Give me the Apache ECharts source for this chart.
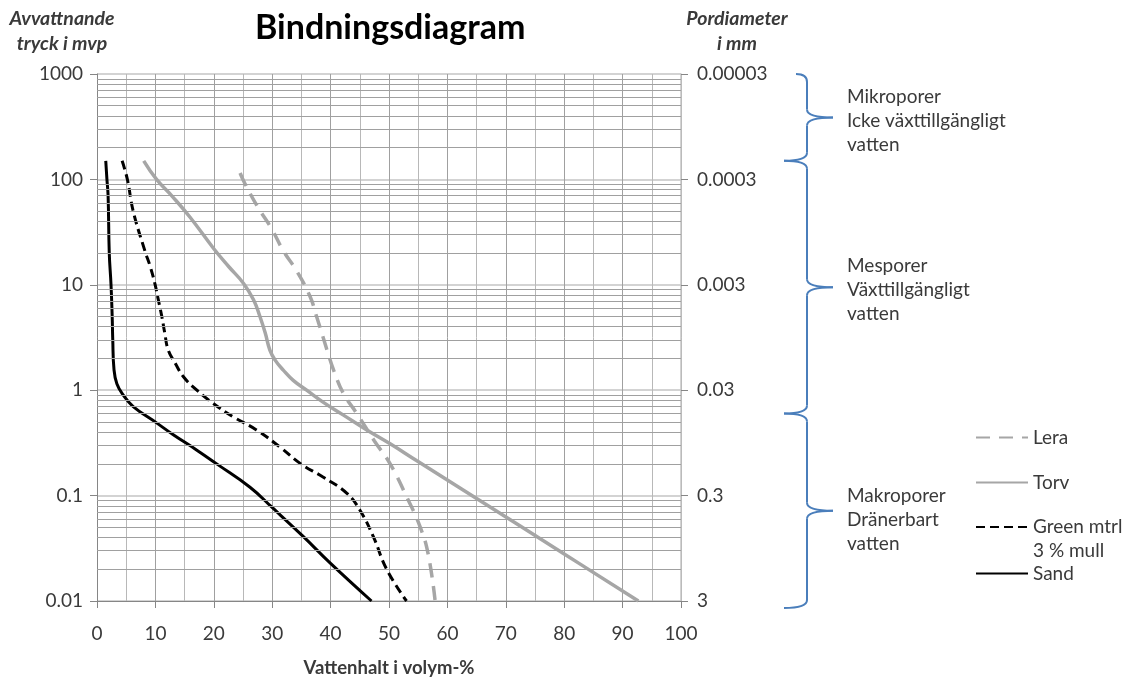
<!DOCTYPE html>
<html>
<head>
<meta charset="utf-8">
<title>Bindningsdiagram</title>
<style>
  html, body { margin: 0; padding: 0; background: #ffffff; }
  #chart { width: 1126px; height: 682px; }
</style>
<script src="https://cdn.jsdelivr.net/npm/echarts@6/dist/echarts.min.js"></script>
</head>
<body>
<div id="chart"></div>
<script>
// Water retention curves: water content (volume-%) against suction (m water column)
const seriesNames = ['Lera', 'Torv', 'Green mtrl', 'Sand'];

const leraX = [24.5, 25.3, 27.5, 29.9, 31.9, 34.2, 36.5, 37.6, 38.7, 39.6, 40.5, 42.2, 44.5, 47.5, 50.2, 53.0, 55.3, 56.7, 57.9];
const leraY = [115, 92, 55, 34, 21, 13.5, 7.7, 5.0, 3.2, 2.2, 1.56, 0.93, 0.6, 0.33, 0.2, 0.098, 0.051, 0.028, 0.01];

const torvX = [8.0, 10.2, 13.0, 15.9, 20.0, 22.5, 25.1, 26.8, 27.9, 28.8, 29.6, 30.5, 31.9, 33.6, 35.9, 38.7, 42.2, 46.2, 50.2, 54.7, 65.0, 79.8, 92.7];
const torvY = [150, 100, 68, 44, 22, 15, 10.3, 7.2, 5.0, 3.5, 2.4, 1.93, 1.55, 1.24, 1.0, 0.77, 0.58, 0.42, 0.31, 0.215, 0.094, 0.0284, 0.01];

const greenX = [4.3, 5.2, 6.2, 8.2, 9.1, 9.9, 10.5, 11.1, 11.6, 12.2, 13.4, 14.8, 17.1, 19.9, 23.3, 27.3, 31.3, 34.9, 38.7, 42.8, 45.0, 47.3, 49.6, 53.0];
const greenY = [150, 100, 50, 21, 15, 10.3, 7.2, 5.0, 3.5, 2.4, 1.8, 1.34, 1.0, 0.75, 0.56, 0.42, 0.29, 0.2, 0.15, 0.105, 0.073, 0.041, 0.02, 0.01];

const sandX = [1.5, 1.7, 1.9, 2.1, 2.4, 2.6, 2.7, 2.9, 3.4, 4.5, 6.2, 10.2, 13.0, 17.1, 20.5, 26.2, 29.9, 35.3, 39.9, 47.0];
const sandY = [150, 100, 70, 20, 10, 5, 3, 1.6, 1.15, 0.9, 0.7, 0.49, 0.38, 0.27, 0.2, 0.12, 0.078, 0.041, 0.023, 0.01];

// Axis tick labels, one per decade from 0.01 to 1000
const pressureLabels = ['0.01', '0.1', '1', '10', '100', '1000'];
const poreLabels = ['3', '0.3', '0.03', '0.003', '0.0003', '0.00003'];

// Pore classes, bracketed by suction ranges
const zoneTexts = [
  'Mikroporer\nIcke växttillgängligt\nvatten',
  'Mesporer\nVäxttillgängligt\nvatten',
  'Makroporer\nDränerbart\nvatten'
];
const zoneBounds = [1000, 150, 0.6, 0.0086];

const FONT = 'Lato, "Open Sans", sans-serif';
const TEXT = '#3a3a3a';
const GRAY = '#a6a6a6';

function pairs(xs, ys) { return xs.map((x, i) => [x, ys[i]]); }
function decadeIndex(v) { return Math.round(Math.log10(v)) + 2; }

// Minor log gridlines (2..9 within each decade)
const minorGrid = [];
for (let e = -2; e < 3; e++) {
  for (let m = 2; m <= 9; m++) minorGrid.push(m * Math.pow(10, e));
}

const chart = echarts.init(document.getElementById('chart'), null, { renderer: 'canvas' });

const lineBase = { type: 'line', showSymbol: false, symbol: 'none', smooth: 0.45, yAxisIndex: 0, z: 3 };
const legendText = { fontFamily: FONT, fontSize: 19, color: TEXT };

const option = {
  animation: false,
  backgroundColor: '#ffffff',
  textStyle: { fontFamily: FONT },
  title: {
    text: 'Bindningsdiagram',
    left: 250, top: 6,
    textStyle: { fontFamily: FONT, fontSize: 34, fontWeight: 'bold', color: '#000000' }
  },
  grid: { left: 97, right: 445, top: 74, bottom: 81, containLabel: false, outerBoundsMode: 'none' },
  xAxis: {
    type: 'value', min: 0, max: 100, interval: 10,
    name: 'Vattenhalt i volym-%', nameLocation: 'middle', nameGap: 58,
    nameTextStyle: { fontFamily: FONT, fontSize: 18.5, fontWeight: 'bold', color: TEXT },
    axisLine: { show: true, lineStyle: { color: '#868686', width: 1 } },
    axisTick: { show: true, length: 7, lineStyle: { color: '#868686' } },
    axisLabel: { margin: 23, fontSize: 19, color: TEXT, fontFamily: FONT },
    splitLine: { show: true, lineStyle: { color: '#a0a0a0', width: 1 } },
    minorTick: { show: false, splitNumber: 2 },
    minorSplitLine: { show: true, lineStyle: { color: '#b8b8b8', width: 1 } }
  },
  yAxis: [
    {
      type: 'log', logBase: 10, min: 0.01, max: 1000, position: 'left',
      name: 'Avvattnande\ntryck i mvp', nameLocation: 'end', nameGap: 18,
      nameTextStyle: { fontFamily: FONT, fontSize: 19.5, fontWeight: 'bold', fontStyle: 'italic',
        color: TEXT, lineHeight: 25, align: 'center', padding: [0, 70, 0, 0] },
      axisLine: { show: true, lineStyle: { color: '#868686', width: 1 } },
      axisTick: { show: true, length: 7, lineStyle: { color: '#868686' } },
      axisLabel: { margin: 14, fontSize: 19, color: TEXT, fontFamily: FONT,
        formatter: v => pressureLabels[decadeIndex(v)] },
      splitLine: { show: true, lineStyle: { color: '#c4c4c4', width: 1.5 } }
    },
    {
      type: 'log', logBase: 10, min: 0.01, max: 1000, position: 'right',
      name: 'Pordiameter\ni mm', nameLocation: 'end', nameGap: 18,
      nameTextStyle: { fontFamily: FONT, fontSize: 19.5, fontWeight: 'bold', fontStyle: 'italic',
        color: TEXT, lineHeight: 25, align: 'center', padding: [0, 0, 0, 112] },
      axisLine: { show: true, lineStyle: { color: '#c4c4c4', width: 1.5 } },
      axisTick: { show: true, length: 7, lineStyle: { color: '#868686' } },
      axisLabel: { margin: 16, fontSize: 19, color: TEXT, fontFamily: FONT,
        formatter: v => poreLabels[decadeIndex(v)] },
      splitLine: { show: false }
    }
  ],
  legend: [
    { data: ['Lera'], top: 428 },
    { data: ['Torv'], top: 473 },
    // a blank first line keeps the icon level with "Green mtrl"
    { data: ['Green mtrl'], top: 491,
      formatter: () => ' \nGreen mtrl\n3 % mull',
      textStyle: Object.assign({ lineHeight: 24 }, legendText) },
    { data: ['Sand'], top: 564 }
  ].map(l => Object.assign({
    left: 975, orient: 'vertical', padding: 0, itemWidth: 52, itemHeight: 20, itemGap: 0,
    itemStyle: { opacity: 0 },
    textStyle: legendText
  }, l)),
  series: [
    {
      type: 'line', name: '_grid', data: [], silent: true, z: 1,
      markLine: {
        silent: true, symbol: ['none', 'none'], animation: false,
        label: { show: false },
        lineStyle: { color: '#a0a0a0', width: 1, type: 'solid' },
        emphasis: { disabled: true },
        data: minorGrid.map(v => ({ yAxis: v }))
      }
    },
    Object.assign({}, lineBase, { name: seriesNames[0], data: pairs(leraX, leraY),
      lineStyle: { color: GRAY, width: 3.5, type: [14, 9] }, itemStyle: { color: GRAY } }),
    Object.assign({}, lineBase, { name: seriesNames[1], data: pairs(torvX, torvY),
      lineStyle: { color: GRAY, width: 3.5, type: 'solid' }, itemStyle: { color: GRAY } }),
    Object.assign({}, lineBase, { name: seriesNames[2], data: pairs(greenX, greenY),
      lineStyle: { color: '#000000', width: 3, type: [9, 5] }, itemStyle: { color: '#000000' } }),
    Object.assign({}, lineBase, { name: seriesNames[3], data: pairs(sandX, sandY),
      lineStyle: { color: '#000000', width: 3, type: 'solid' }, itemStyle: { color: '#000000' } })
  ]
};

chart.setOption(option);

// Curly braces marking the pore classes along the right-hand axis
const toY = v => chart.convertToPixel({ yAxisIndex: 0 }, v);
const xv = 807, xt = 833, r = 8;
const labelShift = [3, 3, 9];
const braceStyle = { stroke: '#4a7ebb', lineWidth: 2, fill: null };
const graphics = [];
for (let i = 0; i < zoneTexts.length; i++) {
  const top = toY(zoneBounds[i]);
  const bottom = toY(zoneBounds[i + 1]);
  const tip = (top + bottom) / 2;
  const xTop = i === 0 ? 796 : 784;
  const xBot = 784;
  graphics.push({
    type: 'group', silent: true,
    children: [
      { type: 'bezierCurve', shape: { x1: xTop, y1: top, cpx1: xv, cpy1: top, x2: xv, y2: top + r }, style: braceStyle },
      { type: 'line', shape: { x1: xv, y1: top + r, x2: xv, y2: tip - r }, style: braceStyle },
      { type: 'bezierCurve', shape: { x1: xv, y1: tip - r, cpx1: xv, cpy1: tip, x2: xt, y2: tip }, style: braceStyle },
      { type: 'bezierCurve', shape: { x1: xt, y1: tip, cpx1: xv, cpy1: tip, x2: xv, y2: tip + r }, style: braceStyle },
      { type: 'line', shape: { x1: xv, y1: tip + r, x2: xv, y2: bottom - r }, style: braceStyle },
      { type: 'bezierCurve', shape: { x1: xv, y1: bottom - r, cpx1: xv, cpy1: bottom, x2: xBot, y2: bottom }, style: braceStyle }
    ]
  });
  graphics.push({
    type: 'text', silent: true, x: 847, y: tip + labelShift[i],
    style: { text: zoneTexts[i], fontFamily: FONT, fontSize: 19, lineHeight: 24,
      fill: TEXT, verticalAlign: 'middle', align: 'left' }
  });
}
chart.setOption({ graphic: graphics });
</script>
</body>
</html>
